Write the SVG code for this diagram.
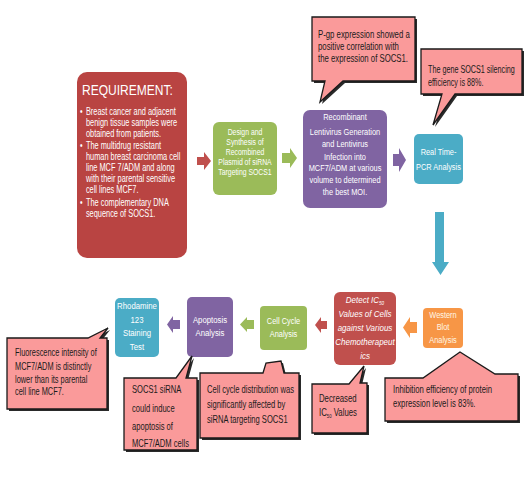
<svg xmlns="http://www.w3.org/2000/svg" width="528" height="480" viewBox="0 0 528 480">
<style>
text{font-family:"Liberation Sans",Arial,sans-serif;}
.bt{fill:#fff;font-size:9.5px;text-anchor:middle;}
.gt{fill:#fff;font-size:8.6px;text-anchor:middle;}
.ct{fill:#1a1a1a;font-size:10px;}
.rt{fill:#fff;font-size:10px;}
.co{fill:#fa9a9a;stroke:#1a1a1a;stroke-width:1.3;stroke-linejoin:miter;}
.sh{fill:#2a2a2a;}
</style>
<rect width="528" height="480" fill="#fff"/>
<g id="connectors">
<path d="M197,157 H204 V152 L211,161 L204,170 V165 H197 Z" fill="#c0504d"/>
<path d="M282,153 H290 V148 L297,158 L290,168 V163 H282 Z" fill="#9bbb59"/>
<path d="M393,154 H399 V148 L406,160 L399,172 V166 H393 Z" fill="#8064a2"/>
<path d="M435,212 H444 V262 H449 L440.5,275 L432,262 H435 Z" fill="#4bacc6"/>
<path d="M417,322 H410 V317 L403,327.5 L410,338 V333 H417 Z" fill="#f79646"/>
<path d="M327,321 H321 V317 L315,325 L321,333 V329 H327 Z" fill="#c0504d"/>
<path d="M254,320 H247 V317 L240,324.5 L247,332 V329 H254 Z" fill="#9bbb59"/>
<path d="M180,320 H173 V316 L167,324.5 L173,333 V329 H180 Z" fill="#8064a2"/>
</g>
<g id="requirement">
<rect x="77" y="72" width="110" height="186" rx="10" fill="#b94442"/>
<g transform="translate(82,0) scale(0.86,1)">
<text x="0" y="95" style="fill:#fff;font-size:14px;">REQUIREMENT:</text>
</g>
<g transform="translate(80,0) scale(0.74,1)">
<text class="rt" x="0" y="115">•</text>
<text class="rt" x="8" y="115">Breast cancer and adjacent</text>
<text class="rt" x="8" y="126">benign tissue samples were</text>
<text class="rt" x="8" y="137">obtained from patients.</text>
<text class="rt" x="0" y="149">•</text>
<text class="rt" x="8" y="149">The multidrug resistant</text>
<text class="rt" x="8" y="160">human breast carcinoma cell</text>
<text class="rt" x="8" y="171">line MCF 7/ADM and along</text>
<text class="rt" x="8" y="182">with their parental sensitive</text>
<text class="rt" x="8" y="193">cell lines MCF7.</text>
<text class="rt" x="0" y="206">•</text>
<text class="rt" x="8" y="206">The complementary DNA</text>
<text class="rt" x="8" y="217">sequence of SOCS1.</text>
</g>
</g>
<g id="design">
<rect x="213" y="122" width="64" height="73" rx="6" fill="#9bbb59"/>
<g transform="translate(245,0) scale(0.8,1)">
<text class="gt" x="0" y="135">Design and</text>
<text class="gt" x="0" y="145">Synthesis of</text>
<text class="gt" x="0" y="155">Recombined</text>
<text class="gt" x="0" y="165">Plasmid of siRNA</text>
<text class="gt" x="0" y="175">Targeting SOCS1</text>
</g>
</g>
<g id="lentivirus">
<rect x="303" y="110" width="84" height="98" rx="7" fill="#8064a2"/>
<g transform="translate(345,0) scale(0.78,1)">
<text class="bt" x="0" y="120">Recombinant</text>
<text class="bt" x="0" y="135">Lentivirus Generation</text>
<text class="bt" x="0" y="147">and Lentivirus</text>
<text class="bt" x="0" y="160">Infection into</text>
<text class="bt" x="0" y="171">MCF7/ADM at various</text>
<text class="bt" x="0" y="183">volume to determined</text>
<text class="bt" x="0" y="195">the best MOI.</text>
</g>
</g>
<g id="pcr">
<rect x="414" y="134" width="49" height="50" rx="5" fill="#4bacc6"/>
<g transform="translate(438.5,0) scale(0.78,1)">
<text class="bt" x="0" y="155">Real Time-</text>
<text class="bt" x="0" y="170">PCR Analysis</text>
</g>
</g>
<g id="western">
<rect x="423" y="308" width="40" height="40" rx="4" fill="#f79646"/>
<g transform="translate(443,0) scale(0.78,1)">
<text class="bt" x="0" y="318" style="fill:#fff6e6">Western</text>
<text class="bt" x="0" y="330" style="fill:#fff6e6">Blot</text>
<text class="bt" x="0" y="343" style="fill:#fff6e6">Analysis</text>
</g>
</g>
<g id="ic50">
<rect x="334" y="292" width="62" height="73" rx="6" fill="#c0504d"/>
<g transform="translate(365,0) scale(0.84,1)" style="font-style:italic">
<text class="bt" x="0" y="303">Detect IC<tspan font-size="5.5" dy="2">50</tspan></text>
<text class="bt" x="0" y="317">Values of Cells</text>
<text class="bt" x="0" y="331">against Various</text>
<text class="bt" x="0" y="345">Chemotherapeut</text>
<text class="bt" x="0" y="359">ics</text>
</g>
</g>
<g id="cellcycle">
<rect x="260" y="306" width="47" height="44" rx="4" fill="#9bbb59"/>
<g transform="translate(283.5,0) scale(0.78,1)">
<text class="bt" x="0" y="324">Cell Cycle</text>
<text class="bt" x="0" y="337">Analysis</text>
</g>
</g>
<g id="apoptosis">
<rect x="187" y="297" width="46" height="60" rx="5" fill="#8064a2"/>
<g transform="translate(210,0) scale(0.82,1)">
<text class="bt" x="0" y="323">Apoptosis</text>
<text class="bt" x="0" y="336">Analysis</text>
</g>
</g>
<g id="rhodamine">
<rect x="115" y="298" width="44" height="59" rx="5" fill="#4bacc6"/>
<g transform="translate(137,0) scale(0.82,1)">
<text class="bt" x="0" y="309">Rhodamine</text>
<text class="bt" x="0" y="323">123</text>
<text class="bt" x="0" y="336">Staining</text>
<text class="bt" x="0" y="350">Test</text>
</g>
</g>
<g id="callout-pgp">
<path class="sh" transform="translate(2,2)" d="M312,17 H415 V81 H343 L320,102 L325,81 H312 Z"/>
<path class="co" d="M312,17 H415 V81 H343 L320,102 L325,81 H312 Z"/>
<g transform="translate(318,0) scale(0.78,1)">
<text class="ct" x="0" y="38">P-gp expression showed a</text>
<text class="ct" x="0" y="50">positive correlation with</text>
<text class="ct" x="0" y="62">the expression of SOCS1.</text>
</g>
</g>
<g id="callout-gene">
<path class="sh" transform="translate(2,2)" d="M421,49 H522 V94 H455 L433,125 L442,94 H421 Z"/>
<path class="co" d="M421,49 H522 V94 H455 L433,125 L442,94 H421 Z"/>
<g transform="translate(428,0) scale(0.72,1)">
<text class="ct" x="0" y="73">The gene SOCS1 silencing</text>
<text class="ct" x="0" y="86">efficiency is 88%.</text>
</g>
</g>
<g id="callout-fluorescence">
<path class="sh" transform="translate(2,2)" d="M7,338 H88 L108,328 L100,338 H107 V409 H7 Z"/>
<path class="co" d="M7,338 H88 L108,328 L100,338 H107 V409 H7 Z"/>
<g transform="translate(15,0) scale(0.74,1)">
<text class="ct" x="0" y="356">Fluorescence intensity of</text>
<text class="ct" x="0" y="370">MCF7/ADM is distinctly</text>
<text class="ct" x="0" y="383">lower than its parental</text>
<text class="ct" x="0" y="395">cell line MCF7.</text>
</g>
</g>
<g id="callout-socs1">
<path class="sh" transform="translate(2,2)" d="M124,378 H176 L192,356 L186,378 H197 V450 H124 Z"/>
<path class="co" d="M124,378 H176 L192,356 L186,378 H197 V450 H124 Z"/>
<g transform="translate(132,0) scale(0.76,1)">
<text class="ct" x="0" y="393">SOCS1 siRNA</text>
<text class="ct" x="0" y="412">could induce</text>
<text class="ct" x="0" y="430">apoptosis of</text>
<text class="ct" x="0" y="447">MCF7/ADM cells</text>
</g>
</g>
<g id="callout-cellcycle">
<path class="sh" transform="translate(2,2)" d="M200,373 H263 L266,363 L281,361 L284,373 H299 V438 H200 Z"/>
<path class="co" d="M200,373 H263 L266,363 L281,361 L284,373 H299 V438 H200 Z"/>
<g transform="translate(207,0) scale(0.76,1)">
<text class="ct" x="0" y="393">Cell cycle distribution was</text>
<text class="ct" x="0" y="408">significantly affected by</text>
<text class="ct" x="0" y="423">siRNA targeting SOCS1</text>
</g>
</g>
<g id="callout-decreased">
<path class="sh" transform="translate(2,2)" d="M312,384 H349 L364,366 L360,383 H367 V433 H312 Z"/>
<path class="co" d="M312,384 H349 L364,366 L360,383 H367 V433 H312 Z"/>
<g transform="translate(319,0) scale(0.78,1)">
<text class="ct" x="0" y="402">Decreased</text>
<text class="ct" x="0" y="416">IC<tspan font-size="5.5" dy="2">50</tspan><tspan dy="-2"> Values</tspan></text>
</g>
</g>
<g id="callout-inhibition">
<path class="sh" transform="translate(2,2)" d="M385,378 H423 L460,352 L495,374 H518 V421 H385 Z"/>
<path class="co" d="M385,378 H423 L460,352 L495,374 H518 V421 H385 Z"/>
<g transform="translate(393,0) scale(0.77,1)">
<text class="ct" x="0" y="393">Inhibition efficiency of protein</text>
<text class="ct" x="0" y="407">expression level is 83%.</text>
</g>
</g>
</svg>
